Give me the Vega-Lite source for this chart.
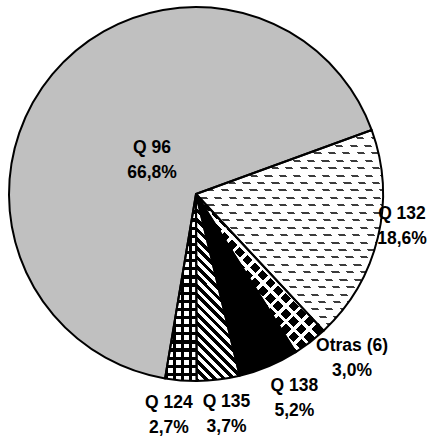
{
 "$schema": "https://vega.github.io/schema/vega-lite/v6.json",
 "width": 392, "height": 388,
 "autosize": {"type": "none"},
 "padding": {"left": 0, "top": 0, "right": 39, "bottom": 49},
 "background": "white",
 "config": {"view": {"stroke": null}},
 "data": {"values": [
  {"label": "Q 132", "value": 18.6, "ord": 1, "txt": "Q 132\n18,6%"},
  {"label": "Otras (6)", "value": 3.0, "ord": 2, "txt": "Otras (6)\n3,0%"},
  {"label": "Q 138", "value": 5.2, "ord": 3, "txt": "Q 138\n5,2%"},
  {"label": "Q 135", "value": 3.7, "ord": 4, "txt": "Q 135\n3,7%"},
  {"label": "Q 124", "value": 2.7, "ord": 5, "txt": "Q 124\n2,7%"},
  {"label": "Q 96", "value": 66.8, "ord": 6, "txt": "Q 96\n66,8%"}
 ]},
 "encoding": {
  "theta": {"field": "value", "type": "quantitative", "stack": true, "scale": {"range": [1.2217, 7.5049]}},
  "order": {"field": "ord", "type": "quantitative"}
 },
 "layer": [
  {
   "mark": {"type": "arc", "radius": 187, "strokeWidth": 0},
   "encoding": {
    "fill": {
     "condition": [
      {"test": "datum.label === 'Q 132'", "value": {"gradient": "linear", "x1": 0, "y1": 0, "x2": 0, "y2": 1, "stops": [
       {"offset":0,"color":"#3c3c3c"},{"offset":0.01,"color":"#3c3c3c"},{"offset":0.01,"color":"#fff"},{"offset":0.037,"color":"#fff"},
       {"offset":0.037,"color":"#3c3c3c"},{"offset":0.047,"color":"#3c3c3c"},{"offset":0.047,"color":"#fff"},{"offset":0.0741,"color":"#fff"},
       {"offset":0.0741,"color":"#3c3c3c"},{"offset":0.0841,"color":"#3c3c3c"},{"offset":0.0841,"color":"#fff"},{"offset":0.1111,"color":"#fff"},
       {"offset":0.1111,"color":"#3c3c3c"},{"offset":0.1211,"color":"#3c3c3c"},{"offset":0.1211,"color":"#fff"},{"offset":0.1481,"color":"#fff"},
       {"offset":0.1481,"color":"#3c3c3c"},{"offset":0.1581,"color":"#3c3c3c"},{"offset":0.1581,"color":"#fff"},{"offset":0.1852,"color":"#fff"},
       {"offset":0.1852,"color":"#3c3c3c"},{"offset":0.1952,"color":"#3c3c3c"},{"offset":0.1952,"color":"#fff"},{"offset":0.2222,"color":"#fff"},
       {"offset":0.2222,"color":"#3c3c3c"},{"offset":0.2322,"color":"#3c3c3c"},{"offset":0.2322,"color":"#fff"},{"offset":0.2593,"color":"#fff"},
       {"offset":0.2593,"color":"#3c3c3c"},{"offset":0.2693,"color":"#3c3c3c"},{"offset":0.2693,"color":"#fff"},{"offset":0.2963,"color":"#fff"},
       {"offset":0.2963,"color":"#3c3c3c"},{"offset":0.3063,"color":"#3c3c3c"},{"offset":0.3063,"color":"#fff"},{"offset":0.3333,"color":"#fff"},
       {"offset":0.3333,"color":"#3c3c3c"},{"offset":0.3433,"color":"#3c3c3c"},{"offset":0.3433,"color":"#fff"},{"offset":0.3704,"color":"#fff"},
       {"offset":0.3704,"color":"#3c3c3c"},{"offset":0.3804,"color":"#3c3c3c"},{"offset":0.3804,"color":"#fff"},{"offset":0.4074,"color":"#fff"},
       {"offset":0.4074,"color":"#3c3c3c"},{"offset":0.4174,"color":"#3c3c3c"},{"offset":0.4174,"color":"#fff"},{"offset":0.4444,"color":"#fff"},
       {"offset":0.4444,"color":"#3c3c3c"},{"offset":0.4544,"color":"#3c3c3c"},{"offset":0.4544,"color":"#fff"},{"offset":0.4815,"color":"#fff"},
       {"offset":0.4815,"color":"#3c3c3c"},{"offset":0.4915,"color":"#3c3c3c"},{"offset":0.4915,"color":"#fff"},{"offset":0.5185,"color":"#fff"},
       {"offset":0.5185,"color":"#3c3c3c"},{"offset":0.5285,"color":"#3c3c3c"},{"offset":0.5285,"color":"#fff"},{"offset":0.5556,"color":"#fff"},
       {"offset":0.5556,"color":"#3c3c3c"},{"offset":0.5656,"color":"#3c3c3c"},{"offset":0.5656,"color":"#fff"},{"offset":0.5926,"color":"#fff"},
       {"offset":0.5926,"color":"#3c3c3c"},{"offset":0.6026,"color":"#3c3c3c"},{"offset":0.6026,"color":"#fff"},{"offset":0.6296,"color":"#fff"},
       {"offset":0.6296,"color":"#3c3c3c"},{"offset":0.6396,"color":"#3c3c3c"},{"offset":0.6396,"color":"#fff"},{"offset":0.6667,"color":"#fff"},
       {"offset":0.6667,"color":"#3c3c3c"},{"offset":0.6767,"color":"#3c3c3c"},{"offset":0.6767,"color":"#fff"},{"offset":0.7037,"color":"#fff"},
       {"offset":0.7037,"color":"#3c3c3c"},{"offset":0.7137,"color":"#3c3c3c"},{"offset":0.7137,"color":"#fff"},{"offset":0.7407,"color":"#fff"},
       {"offset":0.7407,"color":"#3c3c3c"},{"offset":0.7507,"color":"#3c3c3c"},{"offset":0.7507,"color":"#fff"},{"offset":0.7778,"color":"#fff"},
       {"offset":0.7778,"color":"#3c3c3c"},{"offset":0.7878,"color":"#3c3c3c"},{"offset":0.7878,"color":"#fff"},{"offset":0.8148,"color":"#fff"},
       {"offset":0.8148,"color":"#3c3c3c"},{"offset":0.8248,"color":"#3c3c3c"},{"offset":0.8248,"color":"#fff"},{"offset":0.8519,"color":"#fff"},
       {"offset":0.8519,"color":"#3c3c3c"},{"offset":0.8619,"color":"#3c3c3c"},{"offset":0.8619,"color":"#fff"},{"offset":0.8889,"color":"#fff"},
       {"offset":0.8889,"color":"#3c3c3c"},{"offset":0.8989,"color":"#3c3c3c"},{"offset":0.8989,"color":"#fff"},{"offset":0.9259,"color":"#fff"},
       {"offset":0.9259,"color":"#3c3c3c"},{"offset":0.9359,"color":"#3c3c3c"},{"offset":0.9359,"color":"#fff"},{"offset":0.963,"color":"#fff"},
       {"offset":0.963,"color":"#3c3c3c"},{"offset":0.973,"color":"#3c3c3c"},{"offset":0.973,"color":"#fff"},{"offset":1,"color":"#fff"}
      ]}},
      {"test": "datum.label === 'Otras (6)'", "value": {"gradient": "linear", "x1": 0, "y1": 1, "x2": 0.807, "y2": 0, "stops": [
       {"offset":0,"color":"#000"},{"offset":0.0412,"color":"#000"},{"offset":0.0412,"color":"#fff"},{"offset":0.0588,"color":"#fff"},
       {"offset":0.0588,"color":"#000"},{"offset":0.1,"color":"#000"},{"offset":0.1,"color":"#fff"},{"offset":0.1176,"color":"#fff"},
       {"offset":0.1176,"color":"#000"},{"offset":0.1588,"color":"#000"},{"offset":0.1588,"color":"#fff"},{"offset":0.1765,"color":"#fff"},
       {"offset":0.1765,"color":"#000"},{"offset":0.2176,"color":"#000"},{"offset":0.2176,"color":"#fff"},{"offset":0.2353,"color":"#fff"},
       {"offset":0.2353,"color":"#000"},{"offset":0.2765,"color":"#000"},{"offset":0.2765,"color":"#fff"},{"offset":0.2941,"color":"#fff"},
       {"offset":0.2941,"color":"#000"},{"offset":0.3353,"color":"#000"},{"offset":0.3353,"color":"#fff"},{"offset":0.3529,"color":"#fff"},
       {"offset":0.3529,"color":"#000"},{"offset":0.3941,"color":"#000"},{"offset":0.3941,"color":"#fff"},{"offset":0.4118,"color":"#fff"},
       {"offset":0.4118,"color":"#000"},{"offset":0.4529,"color":"#000"},{"offset":0.4529,"color":"#fff"},{"offset":0.4706,"color":"#fff"},
       {"offset":0.4706,"color":"#000"},{"offset":0.5118,"color":"#000"},{"offset":0.5118,"color":"#fff"},{"offset":0.5294,"color":"#fff"},
       {"offset":0.5294,"color":"#000"},{"offset":0.5706,"color":"#000"},{"offset":0.5706,"color":"#fff"},{"offset":0.5882,"color":"#fff"},
       {"offset":0.5882,"color":"#000"},{"offset":0.6294,"color":"#000"},{"offset":0.6294,"color":"#fff"},{"offset":0.6471,"color":"#fff"},
       {"offset":0.6471,"color":"#000"},{"offset":0.6882,"color":"#000"},{"offset":0.6882,"color":"#fff"},{"offset":0.7059,"color":"#fff"},
       {"offset":0.7059,"color":"#000"},{"offset":0.7471,"color":"#000"},{"offset":0.7471,"color":"#fff"},{"offset":0.7647,"color":"#fff"},
       {"offset":0.7647,"color":"#000"},{"offset":0.8059,"color":"#000"},{"offset":0.8059,"color":"#fff"},{"offset":0.8235,"color":"#fff"},
       {"offset":0.8235,"color":"#000"},{"offset":0.8647,"color":"#000"},{"offset":0.8647,"color":"#fff"},{"offset":0.8824,"color":"#fff"},
       {"offset":0.8824,"color":"#000"},{"offset":0.9235,"color":"#000"},{"offset":0.9235,"color":"#fff"},{"offset":0.9412,"color":"#fff"},
       {"offset":0.9412,"color":"#000"},{"offset":0.9824,"color":"#000"},{"offset":0.9824,"color":"#fff"},{"offset":1,"color":"#fff"}
      ]}},
      {"test": "datum.label === 'Q 138'", "value": "#000000"},
      {"test": "datum.label === 'Q 135'", "value": {"gradient": "linear", "x1": 0, "y1": 1, "x2": 0.234, "y2": 0, "stops": [
       {"offset":0,"color":"#000"},{"offset":0.0238,"color":"#000"},{"offset":0.0238,"color":"#fff"},{"offset":0.0476,"color":"#fff"},
       {"offset":0.0476,"color":"#000"},{"offset":0.0714,"color":"#000"},{"offset":0.0714,"color":"#fff"},{"offset":0.0952,"color":"#fff"},
       {"offset":0.0952,"color":"#000"},{"offset":0.119,"color":"#000"},{"offset":0.119,"color":"#fff"},{"offset":0.1429,"color":"#fff"},
       {"offset":0.1429,"color":"#000"},{"offset":0.1667,"color":"#000"},{"offset":0.1667,"color":"#fff"},{"offset":0.1905,"color":"#fff"},
       {"offset":0.1905,"color":"#000"},{"offset":0.2143,"color":"#000"},{"offset":0.2143,"color":"#fff"},{"offset":0.2381,"color":"#fff"},
       {"offset":0.2381,"color":"#000"},{"offset":0.2619,"color":"#000"},{"offset":0.2619,"color":"#fff"},{"offset":0.2857,"color":"#fff"},
       {"offset":0.2857,"color":"#000"},{"offset":0.3095,"color":"#000"},{"offset":0.3095,"color":"#fff"},{"offset":0.3333,"color":"#fff"},
       {"offset":0.3333,"color":"#000"},{"offset":0.3571,"color":"#000"},{"offset":0.3571,"color":"#fff"},{"offset":0.381,"color":"#fff"},
       {"offset":0.381,"color":"#000"},{"offset":0.4048,"color":"#000"},{"offset":0.4048,"color":"#fff"},{"offset":0.4286,"color":"#fff"},
       {"offset":0.4286,"color":"#000"},{"offset":0.4524,"color":"#000"},{"offset":0.4524,"color":"#fff"},{"offset":0.4762,"color":"#fff"},
       {"offset":0.4762,"color":"#000"},{"offset":0.5,"color":"#000"},{"offset":0.5,"color":"#fff"},{"offset":0.5238,"color":"#fff"},
       {"offset":0.5238,"color":"#000"},{"offset":0.5476,"color":"#000"},{"offset":0.5476,"color":"#fff"},{"offset":0.5714,"color":"#fff"},
       {"offset":0.5714,"color":"#000"},{"offset":0.5952,"color":"#000"},{"offset":0.5952,"color":"#fff"},{"offset":0.619,"color":"#fff"},
       {"offset":0.619,"color":"#000"},{"offset":0.6429,"color":"#000"},{"offset":0.6429,"color":"#fff"},{"offset":0.6667,"color":"#fff"},
       {"offset":0.6667,"color":"#000"},{"offset":0.6905,"color":"#000"},{"offset":0.6905,"color":"#fff"},{"offset":0.7143,"color":"#fff"},
       {"offset":0.7143,"color":"#000"},{"offset":0.7381,"color":"#000"},{"offset":0.7381,"color":"#fff"},{"offset":0.7619,"color":"#fff"},
       {"offset":0.7619,"color":"#000"},{"offset":0.7857,"color":"#000"},{"offset":0.7857,"color":"#fff"},{"offset":0.8095,"color":"#fff"},
       {"offset":0.8095,"color":"#000"},{"offset":0.8333,"color":"#000"},{"offset":0.8333,"color":"#fff"},{"offset":0.8571,"color":"#fff"},
       {"offset":0.8571,"color":"#000"},{"offset":0.881,"color":"#000"},{"offset":0.881,"color":"#fff"},{"offset":0.9048,"color":"#fff"},
       {"offset":0.9048,"color":"#000"},{"offset":0.9286,"color":"#000"},{"offset":0.9286,"color":"#fff"},{"offset":0.9524,"color":"#fff"},
       {"offset":0.9524,"color":"#000"},{"offset":0.9762,"color":"#000"},{"offset":0.9762,"color":"#fff"},{"offset":1,"color":"#fff"}
      ]}},
      {"test": "datum.label === 'Q 124'", "value": {"gradient": "linear", "x1": 0, "y1": 0, "x2": 1, "y2": 0, "stops": [
       {"offset":0,"color":"#000"},{"offset":0.1,"color":"#000"},{"offset":0.1,"color":"#fff"},{"offset":0.25,"color":"#fff"},
       {"offset":0.25,"color":"#000"},{"offset":0.35,"color":"#000"},{"offset":0.35,"color":"#fff"},{"offset":0.5,"color":"#fff"},
       {"offset":0.5,"color":"#000"},{"offset":0.6,"color":"#000"},{"offset":0.6,"color":"#fff"},{"offset":0.75,"color":"#fff"},
       {"offset":0.75,"color":"#000"},{"offset":0.85,"color":"#000"},{"offset":0.85,"color":"#fff"},{"offset":1,"color":"#fff"}
      ]}}
     ],
     "value": "#c0c0c0"
    }
   }
  },
  {
   "mark": {"type": "arc", "radius": 187, "strokeWidth": 0},
   "encoding": {
    "fill": {
     "condition": [
      {"test": "datum.label === 'Q 132'", "value": {"gradient": "linear", "x1": 0, "y1": 1, "x2": 0.932, "y2": 0, "stops": [
       {"offset":0,"color":"#fff"},{"offset":0.0192,"color":"#fff"},{"offset":0.0192,"color":"rgba(255,255,255,0)"},{"offset":0.0385,"color":"rgba(255,255,255,0)"},
       {"offset":0.0385,"color":"#fff"},{"offset":0.0577,"color":"#fff"},{"offset":0.0577,"color":"rgba(255,255,255,0)"},{"offset":0.0769,"color":"rgba(255,255,255,0)"},
       {"offset":0.0769,"color":"#fff"},{"offset":0.0962,"color":"#fff"},{"offset":0.0962,"color":"rgba(255,255,255,0)"},{"offset":0.1154,"color":"rgba(255,255,255,0)"},
       {"offset":0.1154,"color":"#fff"},{"offset":0.1346,"color":"#fff"},{"offset":0.1346,"color":"rgba(255,255,255,0)"},{"offset":0.1538,"color":"rgba(255,255,255,0)"},
       {"offset":0.1538,"color":"#fff"},{"offset":0.1731,"color":"#fff"},{"offset":0.1731,"color":"rgba(255,255,255,0)"},{"offset":0.1923,"color":"rgba(255,255,255,0)"},
       {"offset":0.1923,"color":"#fff"},{"offset":0.2115,"color":"#fff"},{"offset":0.2115,"color":"rgba(255,255,255,0)"},{"offset":0.2308,"color":"rgba(255,255,255,0)"},
       {"offset":0.2308,"color":"#fff"},{"offset":0.25,"color":"#fff"},{"offset":0.25,"color":"rgba(255,255,255,0)"},{"offset":0.2692,"color":"rgba(255,255,255,0)"},
       {"offset":0.2692,"color":"#fff"},{"offset":0.2885,"color":"#fff"},{"offset":0.2885,"color":"rgba(255,255,255,0)"},{"offset":0.3077,"color":"rgba(255,255,255,0)"},
       {"offset":0.3077,"color":"#fff"},{"offset":0.3269,"color":"#fff"},{"offset":0.3269,"color":"rgba(255,255,255,0)"},{"offset":0.3462,"color":"rgba(255,255,255,0)"},
       {"offset":0.3462,"color":"#fff"},{"offset":0.3654,"color":"#fff"},{"offset":0.3654,"color":"rgba(255,255,255,0)"},{"offset":0.3846,"color":"rgba(255,255,255,0)"},
       {"offset":0.3846,"color":"#fff"},{"offset":0.4038,"color":"#fff"},{"offset":0.4038,"color":"rgba(255,255,255,0)"},{"offset":0.4231,"color":"rgba(255,255,255,0)"},
       {"offset":0.4231,"color":"#fff"},{"offset":0.4423,"color":"#fff"},{"offset":0.4423,"color":"rgba(255,255,255,0)"},{"offset":0.4615,"color":"rgba(255,255,255,0)"},
       {"offset":0.4615,"color":"#fff"},{"offset":0.4808,"color":"#fff"},{"offset":0.4808,"color":"rgba(255,255,255,0)"},{"offset":0.5,"color":"rgba(255,255,255,0)"},
       {"offset":0.5,"color":"#fff"},{"offset":0.5192,"color":"#fff"},{"offset":0.5192,"color":"rgba(255,255,255,0)"},{"offset":0.5385,"color":"rgba(255,255,255,0)"},
       {"offset":0.5385,"color":"#fff"},{"offset":0.5577,"color":"#fff"},{"offset":0.5577,"color":"rgba(255,255,255,0)"},{"offset":0.5769,"color":"rgba(255,255,255,0)"},
       {"offset":0.5769,"color":"#fff"},{"offset":0.5962,"color":"#fff"},{"offset":0.5962,"color":"rgba(255,255,255,0)"},{"offset":0.6154,"color":"rgba(255,255,255,0)"},
       {"offset":0.6154,"color":"#fff"},{"offset":0.6346,"color":"#fff"},{"offset":0.6346,"color":"rgba(255,255,255,0)"},{"offset":0.6538,"color":"rgba(255,255,255,0)"},
       {"offset":0.6538,"color":"#fff"},{"offset":0.6731,"color":"#fff"},{"offset":0.6731,"color":"rgba(255,255,255,0)"},{"offset":0.6923,"color":"rgba(255,255,255,0)"},
       {"offset":0.6923,"color":"#fff"},{"offset":0.7115,"color":"#fff"},{"offset":0.7115,"color":"rgba(255,255,255,0)"},{"offset":0.7308,"color":"rgba(255,255,255,0)"},
       {"offset":0.7308,"color":"#fff"},{"offset":0.75,"color":"#fff"},{"offset":0.75,"color":"rgba(255,255,255,0)"},{"offset":0.7692,"color":"rgba(255,255,255,0)"},
       {"offset":0.7692,"color":"#fff"},{"offset":0.7885,"color":"#fff"},{"offset":0.7885,"color":"rgba(255,255,255,0)"},{"offset":0.8077,"color":"rgba(255,255,255,0)"},
       {"offset":0.8077,"color":"#fff"},{"offset":0.8269,"color":"#fff"},{"offset":0.8269,"color":"rgba(255,255,255,0)"},{"offset":0.8462,"color":"rgba(255,255,255,0)"},
       {"offset":0.8462,"color":"#fff"},{"offset":0.8654,"color":"#fff"},{"offset":0.8654,"color":"rgba(255,255,255,0)"},{"offset":0.8846,"color":"rgba(255,255,255,0)"},
       {"offset":0.8846,"color":"#fff"},{"offset":0.9038,"color":"#fff"},{"offset":0.9038,"color":"rgba(255,255,255,0)"},{"offset":0.9231,"color":"rgba(255,255,255,0)"},
       {"offset":0.9231,"color":"#fff"},{"offset":0.9423,"color":"#fff"},{"offset":0.9423,"color":"rgba(255,255,255,0)"},{"offset":0.9615,"color":"rgba(255,255,255,0)"},
       {"offset":0.9615,"color":"#fff"},{"offset":0.9808,"color":"#fff"},{"offset":0.9808,"color":"rgba(255,255,255,0)"},{"offset":1,"color":"rgba(255,255,255,0)"}
      ]}},
      {"test": "datum.label === 'Otras (6)'", "value": {"gradient": "linear", "x1": 0, "y1": 0, "x2": 0.807, "y2": 1, "stops": [
       {"offset":0,"color":"#fff"},{"offset":0.0176,"color":"#fff"},{"offset":0.0176,"color":"rgba(255,255,255,0)"},{"offset":0.0588,"color":"rgba(255,255,255,0)"},
       {"offset":0.0588,"color":"#fff"},{"offset":0.0765,"color":"#fff"},{"offset":0.0765,"color":"rgba(255,255,255,0)"},{"offset":0.1176,"color":"rgba(255,255,255,0)"},
       {"offset":0.1176,"color":"#fff"},{"offset":0.1353,"color":"#fff"},{"offset":0.1353,"color":"rgba(255,255,255,0)"},{"offset":0.1765,"color":"rgba(255,255,255,0)"},
       {"offset":0.1765,"color":"#fff"},{"offset":0.1941,"color":"#fff"},{"offset":0.1941,"color":"rgba(255,255,255,0)"},{"offset":0.2353,"color":"rgba(255,255,255,0)"},
       {"offset":0.2353,"color":"#fff"},{"offset":0.2529,"color":"#fff"},{"offset":0.2529,"color":"rgba(255,255,255,0)"},{"offset":0.2941,"color":"rgba(255,255,255,0)"},
       {"offset":0.2941,"color":"#fff"},{"offset":0.3118,"color":"#fff"},{"offset":0.3118,"color":"rgba(255,255,255,0)"},{"offset":0.3529,"color":"rgba(255,255,255,0)"},
       {"offset":0.3529,"color":"#fff"},{"offset":0.3706,"color":"#fff"},{"offset":0.3706,"color":"rgba(255,255,255,0)"},{"offset":0.4118,"color":"rgba(255,255,255,0)"},
       {"offset":0.4118,"color":"#fff"},{"offset":0.4294,"color":"#fff"},{"offset":0.4294,"color":"rgba(255,255,255,0)"},{"offset":0.4706,"color":"rgba(255,255,255,0)"},
       {"offset":0.4706,"color":"#fff"},{"offset":0.4882,"color":"#fff"},{"offset":0.4882,"color":"rgba(255,255,255,0)"},{"offset":0.5294,"color":"rgba(255,255,255,0)"},
       {"offset":0.5294,"color":"#fff"},{"offset":0.5471,"color":"#fff"},{"offset":0.5471,"color":"rgba(255,255,255,0)"},{"offset":0.5882,"color":"rgba(255,255,255,0)"},
       {"offset":0.5882,"color":"#fff"},{"offset":0.6059,"color":"#fff"},{"offset":0.6059,"color":"rgba(255,255,255,0)"},{"offset":0.6471,"color":"rgba(255,255,255,0)"},
       {"offset":0.6471,"color":"#fff"},{"offset":0.6647,"color":"#fff"},{"offset":0.6647,"color":"rgba(255,255,255,0)"},{"offset":0.7059,"color":"rgba(255,255,255,0)"},
       {"offset":0.7059,"color":"#fff"},{"offset":0.7235,"color":"#fff"},{"offset":0.7235,"color":"rgba(255,255,255,0)"},{"offset":0.7647,"color":"rgba(255,255,255,0)"},
       {"offset":0.7647,"color":"#fff"},{"offset":0.7824,"color":"#fff"},{"offset":0.7824,"color":"rgba(255,255,255,0)"},{"offset":0.8235,"color":"rgba(255,255,255,0)"},
       {"offset":0.8235,"color":"#fff"},{"offset":0.8412,"color":"#fff"},{"offset":0.8412,"color":"rgba(255,255,255,0)"},{"offset":0.8824,"color":"rgba(255,255,255,0)"},
       {"offset":0.8824,"color":"#fff"},{"offset":0.9,"color":"#fff"},{"offset":0.9,"color":"rgba(255,255,255,0)"},{"offset":0.9412,"color":"rgba(255,255,255,0)"},
       {"offset":0.9412,"color":"#fff"},{"offset":0.9588,"color":"#fff"},{"offset":0.9588,"color":"rgba(255,255,255,0)"},{"offset":1,"color":"rgba(255,255,255,0)"}
      ]}},
      {"test": "datum.label === 'Q 124'", "value": {"gradient": "linear", "x1": 0, "y1": 0, "x2": 0, "y2": 1, "stops": [
       {"offset":0,"color":"#000"},{"offset":0.0174,"color":"#000"},{"offset":0.0174,"color":"rgba(0,0,0,0)"},{"offset":0.0435,"color":"rgba(0,0,0,0)"},
       {"offset":0.0435,"color":"#000"},{"offset":0.0609,"color":"#000"},{"offset":0.0609,"color":"rgba(0,0,0,0)"},{"offset":0.087,"color":"rgba(0,0,0,0)"},
       {"offset":0.087,"color":"#000"},{"offset":0.1044,"color":"#000"},{"offset":0.1044,"color":"rgba(0,0,0,0)"},{"offset":0.1304,"color":"rgba(0,0,0,0)"},
       {"offset":0.1304,"color":"#000"},{"offset":0.1478,"color":"#000"},{"offset":0.1478,"color":"rgba(0,0,0,0)"},{"offset":0.1739,"color":"rgba(0,0,0,0)"},
       {"offset":0.1739,"color":"#000"},{"offset":0.1913,"color":"#000"},{"offset":0.1913,"color":"rgba(0,0,0,0)"},{"offset":0.2174,"color":"rgba(0,0,0,0)"},
       {"offset":0.2174,"color":"#000"},{"offset":0.2348,"color":"#000"},{"offset":0.2348,"color":"rgba(0,0,0,0)"},{"offset":0.2609,"color":"rgba(0,0,0,0)"},
       {"offset":0.2609,"color":"#000"},{"offset":0.2783,"color":"#000"},{"offset":0.2783,"color":"rgba(0,0,0,0)"},{"offset":0.3043,"color":"rgba(0,0,0,0)"},
       {"offset":0.3043,"color":"#000"},{"offset":0.3217,"color":"#000"},{"offset":0.3217,"color":"rgba(0,0,0,0)"},{"offset":0.3478,"color":"rgba(0,0,0,0)"},
       {"offset":0.3478,"color":"#000"},{"offset":0.3652,"color":"#000"},{"offset":0.3652,"color":"rgba(0,0,0,0)"},{"offset":0.3913,"color":"rgba(0,0,0,0)"},
       {"offset":0.3913,"color":"#000"},{"offset":0.4087,"color":"#000"},{"offset":0.4087,"color":"rgba(0,0,0,0)"},{"offset":0.4348,"color":"rgba(0,0,0,0)"},
       {"offset":0.4348,"color":"#000"},{"offset":0.4522,"color":"#000"},{"offset":0.4522,"color":"rgba(0,0,0,0)"},{"offset":0.4783,"color":"rgba(0,0,0,0)"},
       {"offset":0.4783,"color":"#000"},{"offset":0.4957,"color":"#000"},{"offset":0.4957,"color":"rgba(0,0,0,0)"},{"offset":0.5217,"color":"rgba(0,0,0,0)"},
       {"offset":0.5217,"color":"#000"},{"offset":0.5391,"color":"#000"},{"offset":0.5391,"color":"rgba(0,0,0,0)"},{"offset":0.5652,"color":"rgba(0,0,0,0)"},
       {"offset":0.5652,"color":"#000"},{"offset":0.5826,"color":"#000"},{"offset":0.5826,"color":"rgba(0,0,0,0)"},{"offset":0.6087,"color":"rgba(0,0,0,0)"},
       {"offset":0.6087,"color":"#000"},{"offset":0.6261,"color":"#000"},{"offset":0.6261,"color":"rgba(0,0,0,0)"},{"offset":0.6522,"color":"rgba(0,0,0,0)"},
       {"offset":0.6522,"color":"#000"},{"offset":0.6696,"color":"#000"},{"offset":0.6696,"color":"rgba(0,0,0,0)"},{"offset":0.6957,"color":"rgba(0,0,0,0)"},
       {"offset":0.6957,"color":"#000"},{"offset":0.7131,"color":"#000"},{"offset":0.7131,"color":"rgba(0,0,0,0)"},{"offset":0.7391,"color":"rgba(0,0,0,0)"},
       {"offset":0.7391,"color":"#000"},{"offset":0.7565,"color":"#000"},{"offset":0.7565,"color":"rgba(0,0,0,0)"},{"offset":0.7826,"color":"rgba(0,0,0,0)"},
       {"offset":0.7826,"color":"#000"},{"offset":0.8,"color":"#000"},{"offset":0.8,"color":"rgba(0,0,0,0)"},{"offset":0.8261,"color":"rgba(0,0,0,0)"},
       {"offset":0.8261,"color":"#000"},{"offset":0.8435,"color":"#000"},{"offset":0.8435,"color":"rgba(0,0,0,0)"},{"offset":0.8696,"color":"rgba(0,0,0,0)"},
       {"offset":0.8696,"color":"#000"},{"offset":0.887,"color":"#000"},{"offset":0.887,"color":"rgba(0,0,0,0)"},{"offset":0.913,"color":"rgba(0,0,0,0)"},
       {"offset":0.913,"color":"#000"},{"offset":0.9304,"color":"#000"},{"offset":0.9304,"color":"rgba(0,0,0,0)"},{"offset":0.9565,"color":"rgba(0,0,0,0)"},
       {"offset":0.9565,"color":"#000"},{"offset":0.9739,"color":"#000"},{"offset":0.9739,"color":"rgba(0,0,0,0)"},{"offset":1,"color":"rgba(0,0,0,0)"}
      ]}}
     ],
     "value": "transparent"
    }
   }
  },
  {
   "mark": {"type": "arc", "radius": 187, "filled": false, "stroke": "#000000", "strokeWidth": 2, "strokeJoin": "round"}
  },
  {
   "mark": {"type": "text", "radius": 200, "font": "Liberation Sans", "fontWeight": "bold", "fontSize": 17.5, "lineHeight": 25, "lineBreak": "\n", "align": "center", "baseline": "middle", "color": "#000000",
    "dx": {"expr": "datum.label === 'Q 96' ? 109.8 : datum.label === 'Q 132' ? 11.5 : datum.label === 'Otras (6)' ? 33.9 : datum.label === 'Q 138' ? 20.7 : datum.label === 'Q 135' ? 6.6 : -10.8"},
    "dy": {"expr": "datum.label === 'Q 96' ? 81.9 : datum.label === 'Q 132' ? -26.6 : datum.label === 'Otras (6)' ? -6.4 : datum.label === 'Q 138' ? 8.2 : datum.label === 'Q 135' ? 9.9 : 9.2"}
   },
   "encoding": {"text": {"field": "txt", "type": "nominal"}}
  }
 ]
}
